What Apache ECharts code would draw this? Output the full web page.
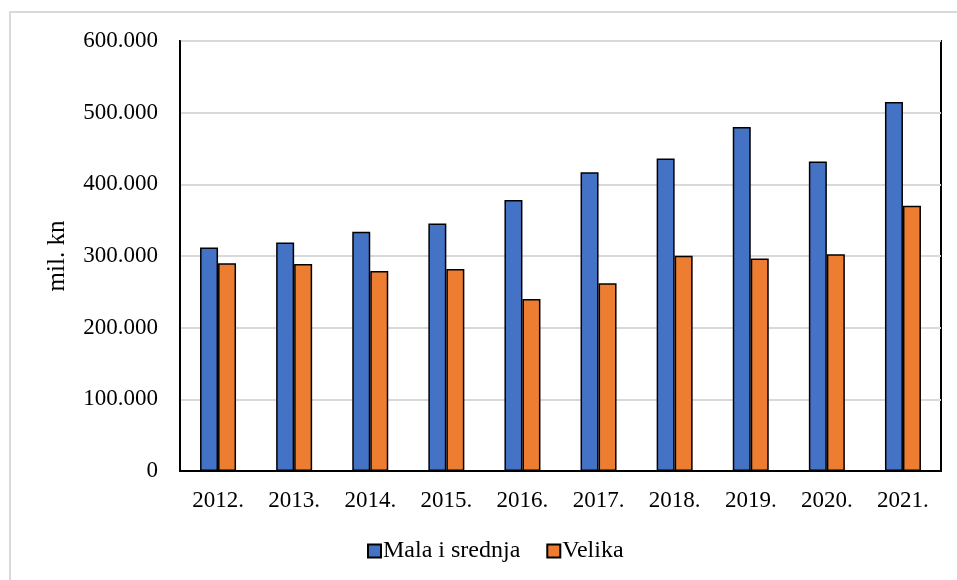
<!DOCTYPE html>
<html>
<head>
<meta charset="utf-8">
<script src="https://cdn.jsdelivr.net/npm/echarts@6/dist/echarts.min.js"></script>
<style>
html, body { margin: 0; padding: 0; background: #fff; }
#chart { width: 957px; height: 580px; }
</style>
</head>
<body>
<div id="chart"></div>
<script>
// Data
var years = ['2012.', '2013.', '2014.', '2015.', '2016.', '2017.', '2018.', '2019.', '2020.', '2021.'];
var malaISrednja = [312000, 319000, 334000, 345500, 378000, 417000, 436000, 480000, 432000, 515000];
var velika = [290000, 289000, 279000, 282000, 240000, 262000, 300500, 296500, 302500, 370000];
var yTicks = [0, 100000, 200000, 300000, 400000, 500000, 600000];

var font = '"Liberation Serif", "Times New Roman", serif';

function fmt(v) {
	return String(v).replace(/\B(?=(\d{3})+(?!\d))/g, '.');
}

var myChart = echarts.init(document.getElementById('chart'), null, { renderer: 'canvas' });

var option = {
	animation: false,
	backgroundColor: '#fff',
	graphic: [{
		type: 'rect',
		shape: { x: 10, y: 12, width: 980, height: 600 },
		style: { fill: 'none', stroke: '#d9d9d9', lineWidth: 2 },
		silent: true
	}],
	grid: {
		left: 180,
		right: 16,
		top: 41,
		bottom: 109,
		show: true,
		borderColor: '#000',
		borderWidth: 2
	},
	legend: {
		bottom: 12,
		left: 362,
		icon: 'rect',
		itemWidth: 13,
		itemHeight: 13,
		itemGap: 26,
		textStyle: { fontFamily: font, fontSize: 24, color: '#000', padding: [0, 0, 0, -3] },
		data: ['Mala i srednja', 'Velika']
	},
	xAxis: {
		type: 'category',
		data: years,
		axisLine: { lineStyle: { color: '#000', width: 2 } },
		axisTick: { show: false },
		axisLabel: { fontFamily: font, fontSize: 23, color: '#000', margin: 18 }
	},
	yAxis: {
		type: 'value',
		min: yTicks[0],
		max: yTicks[yTicks.length - 1],
		interval: yTicks[1] - yTicks[0],
		name: 'mil. kn',
		nameLocation: 'middle',
		nameGap: 110,
		nameTextStyle: { fontFamily: font, fontSize: 25, color: '#000' },
		axisLine: { show: true, lineStyle: { color: '#000', width: 2 } },
		axisTick: { show: false },
		splitLine: { lineStyle: { color: '#d9d9d9', width: 2 } },
		axisLabel: { fontFamily: font, fontSize: 23, color: '#000', margin: 22, formatter: fmt }
	},
	series: [{
		name: 'Mala i srednja',
		type: 'bar',
		data: malaISrednja,
		barWidth: 18,
		barGap: '0%',
		itemStyle: { color: '#4472C4', borderColor: '#000', borderWidth: 1.5 }
	}, {
		name: 'Velika',
		type: 'bar',
		data: velika,
		barWidth: 18,
		itemStyle: { color: '#ED7D31', borderColor: '#000', borderWidth: 1.5 }
	}]
};

myChart.setOption(option);
</script>
</body>
</html>
